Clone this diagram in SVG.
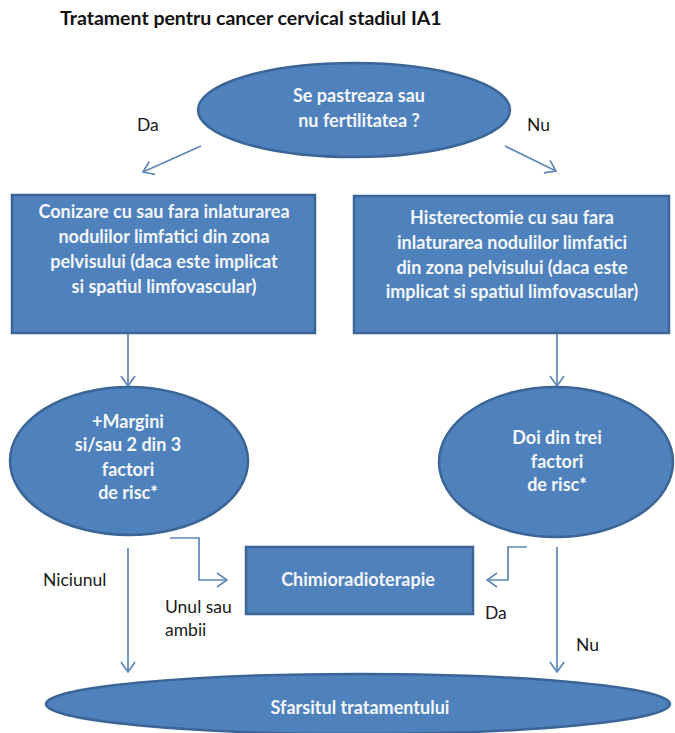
<svg xmlns="http://www.w3.org/2000/svg" width="675" height="733" viewBox="0 0 675 733">
<defs>
<style>
.shape{fill:#4f81bd;stroke:#3b6596;stroke-width:2.5}
.ntext{font-family:Lato,"Open Sans",sans-serif;font-weight:bold;font-size:18px;fill:#f4f7fb;text-anchor:middle}
.label{font-family:Lato,"Open Sans",sans-serif;font-size:17.5px;fill:#1a1a1a}
.title{font-family:Lato,"Open Sans",sans-serif;font-weight:bold;font-size:19.5px;fill:#111}
.conn{fill:none;stroke:#5f88b8;stroke-width:1.7;marker-end:url(#arr)}
</style>
<marker id="arr" viewBox="0 0 12 16" refX="11" refY="8" markerWidth="12" markerHeight="16" markerUnits="userSpaceOnUse" orient="auto">
<path d="M1,1 L11,8 L1,15" fill="none" stroke="#5f88b8" stroke-width="1.7"/>
</marker>
</defs>
<rect width="675" height="733" fill="#ffffff"/>
<text class="title" x="60" y="25">Tratament pentru cancer cervical stadiul IA1</text>

<g id="connectors">
<path class="conn" d="M201,146 L143,172"/>
<path class="conn" d="M505,146 L556,171"/>
<path class="conn" d="M128,334 L128,386"/>
<path class="conn" d="M557,334 L557,386"/>
<path class="conn" d="M170,538 H199 V580 H227"/>
<path class="conn" d="M527,547 H508 V580 H487"/>
<path class="conn" d="M128,548 L128,672"/>
<path class="conn" d="M557,547 L557,672"/>
</g>
<g id="labels">
<text class="label" x="137" y="131">Da</text>
<text class="label" x="527" y="131">Nu</text>
<text class="label" x="43" y="586">Niciunul</text>
<text class="label" x="165" y="613">Unul sau</text>
<text class="label" x="165" y="636">ambii</text>
<text class="label" x="485" y="619">Da</text>
<text class="label" x="576" y="651">Nu</text>
</g>

<g id="fertilitate">
<ellipse class="shape" cx="354" cy="110" rx="156" ry="47"/>
<text class="ntext" x="359" y="102">Se pastreaza sau</text>
<text class="ntext" x="359" y="127">nu fertilitatea ?</text>
</g>

<g id="conizare">
<rect class="shape" x="12" y="195" width="303" height="138"/>
<text class="ntext" x="164" y="218">Conizare cu sau fara inlaturarea</text>
<text class="ntext" x="164" y="243">nodulilor limfatici din zona</text>
<text class="ntext" x="164" y="268">pelvisului (daca este implicat</text>
<text class="ntext" x="164" y="293">si spatiul limfovascular)</text>
</g>

<g id="histerectomie">
<rect class="shape" x="354" y="196" width="315" height="137"/>
<text class="ntext" x="512" y="224">Histerectomie cu sau fara</text>
<text class="ntext" x="512" y="249">inlaturarea nodulilor limfatici</text>
<text class="ntext" x="512" y="274">din zona pelvisului (daca este</text>
<text class="ntext" x="512" y="298">implicat si spatiul limfovascular)</text>
</g>

<g id="margini">
<ellipse class="shape" cx="129" cy="461" rx="119" ry="74"/>
<text class="ntext" x="128" y="428">+Margini</text>
<text class="ntext" x="128" y="451">si/sau 2 din 3</text>
<text class="ntext" x="128" y="476">factori</text>
<text class="ntext" x="128" y="499">de risc*</text>
</g>

<g id="doi-din-trei">
<ellipse class="shape" cx="556" cy="462" rx="117" ry="75"/>
<text class="ntext" x="557" y="444">Doi din trei</text>
<text class="ntext" x="557" y="468">factori</text>
<text class="ntext" x="557" y="491">de risc*</text>
</g>

<g id="chimioradioterapie">
<rect class="shape" x="246" y="547" width="227" height="67"/>
<text class="ntext" x="358" y="586">Chimioradioterapie</text>
</g>

<g id="sfarsit">
<ellipse class="shape" cx="358" cy="704" rx="312" ry="30"/>
<text class="ntext" x="360" y="714">Sfarsitul tratamentului</text>
</g>
</svg>
